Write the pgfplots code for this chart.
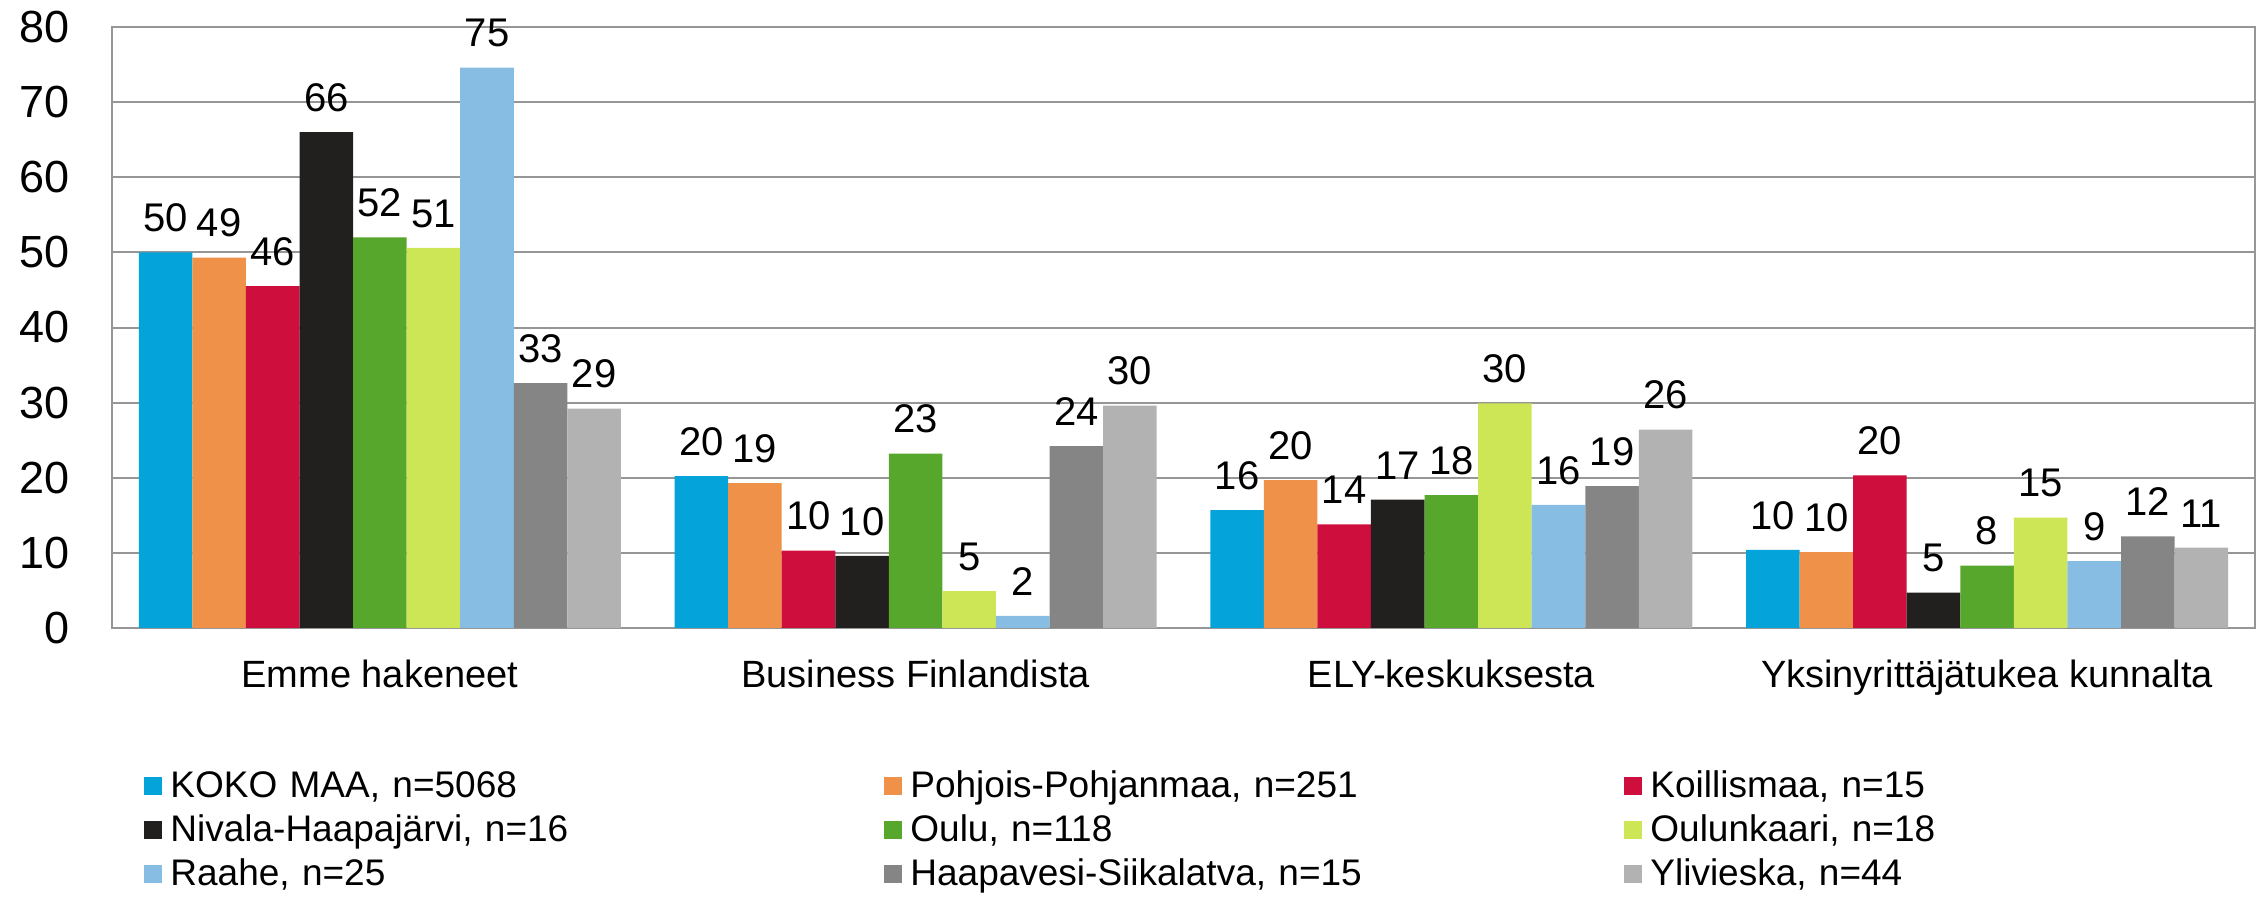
\documentclass[border=0pt]{standalone}
\usepackage{fontspec}
\setmainfont{Liberation Sans}
\usepackage{pgfplots}
\pgfplotsset{compat=1.18}
\definecolor{c1}{RGB}{4,163,217}
\definecolor{c2}{RGB}{240,145,74}
\definecolor{c3}{RGB}{206,15,61}
\definecolor{c4}{RGB}{34,32,30}
\definecolor{c5}{RGB}{87,167,44}
\definecolor{c6}{RGB}{205,230,85}
\definecolor{c7}{RGB}{136,189,227}
\definecolor{c8}{RGB}{133,133,133}
\definecolor{c9}{RGB}{178,178,178}
\definecolor{gridc}{RGB}{150,150,150}
\begin{document}
\begin{tikzpicture}
\path[use as bounding box] (-56pt,-135pt) rectangle (1074pt,314pt);
\begin{axis}[
  at={(0pt,0pt)}, anchor=south west,
  width=1071.5pt, height=300.5pt, scale only axis,
  ybar=0pt, bar width=0.1,
  xmin=-0.5, xmax=3.5, ymin=0, ymax=80,
  xtick={0,1,2,3},
  xticklabels={Emme hakeneet, Business Finlandista, ELY-keskuksesta, Yksinyrittäjätukea kunnalta},
  ytick={0,10,...,80},
  major tick length=0pt,
  ymajorgrids,
  major grid style={draw=gridc, line width=1pt},
  axis line style={draw=gridc, line width=1pt},
  /pgf/number format/assume math mode=true,
  yticklabel style={font=\fontsize{22.5}{24}\selectfont, inner sep=0pt, xshift=-21pt},
  xticklabel style={font=\fontsize{19}{21}\selectfont, inner sep=0pt, yshift=-16pt},
  nodes near coords,
  every node near coord/.append style={font=\fontsize{20}{22}\selectfont, inner sep=0pt, yshift=10pt, black,
     /pgf/number format/fixed, /pgf/number format/precision=0},
  legend columns=3,
  legend style={at={(0,0)}, anchor=north west, xshift=16pt, yshift=-68.5pt,
     draw=none, inner sep=0pt, row sep=0pt,
     font=\fontsize{18.5}{20}\selectfont,
     nodes={text width=340pt, align=left, text height=14pt, text depth=4pt, inner xsep=4pt, inner ysep=2pt},
     /tikz/every even column/.append style={column sep=13pt}},
  legend image code/.code={\fill[#1] (0pt,-4pt) rectangle (9pt,5pt);},
]
\addplot[fill=c1, draw=none] coordinates {(0,50.0) (1,20.2) (2,15.7) (3,10.4)};
\addplot[fill=c2, draw=none] coordinates {(0,49.3) (1,19.3) (2,19.7) (3,10.1)};
\addplot[fill=c3, draw=none] coordinates {(0,45.5) (1,10.3) (2,13.8) (3,20.3)};
\addplot[fill=c4, draw=none] coordinates {(0,66.0) (1,9.6) (2,17.1) (3,4.7)};
\addplot[fill=c5, draw=none] coordinates {(0,52.0) (1,23.2) (2,17.7) (3,8.3)};
\addplot[fill=c6, draw=none] coordinates {(0,50.6) (1,4.9) (2,29.9) (3,14.7)};
\addplot[fill=c7, draw=none] coordinates {(0,74.6) (1,1.6) (2,16.4) (3,8.9)};
\addplot[fill=c8, draw=none] coordinates {(0,32.6) (1,24.2) (2,18.9) (3,12.2)};
\addplot[fill=c9, draw=none] coordinates {(0,29.2) (1,29.6) (2,26.4) (3,10.7)};
\legend{{KOKO MAA, n=5068},{Pohjois-Pohjanmaa, n=251},{Koillismaa, n=15},
  {Nivala-Haapajärvi, n=16},{Oulu, n=118},{Oulunkaari, n=18},
  {Raahe, n=25},{Haapavesi-Siikalatva, n=15},{Ylivieska, n=44}}
\end{axis}
\end{tikzpicture}
\end{document}
